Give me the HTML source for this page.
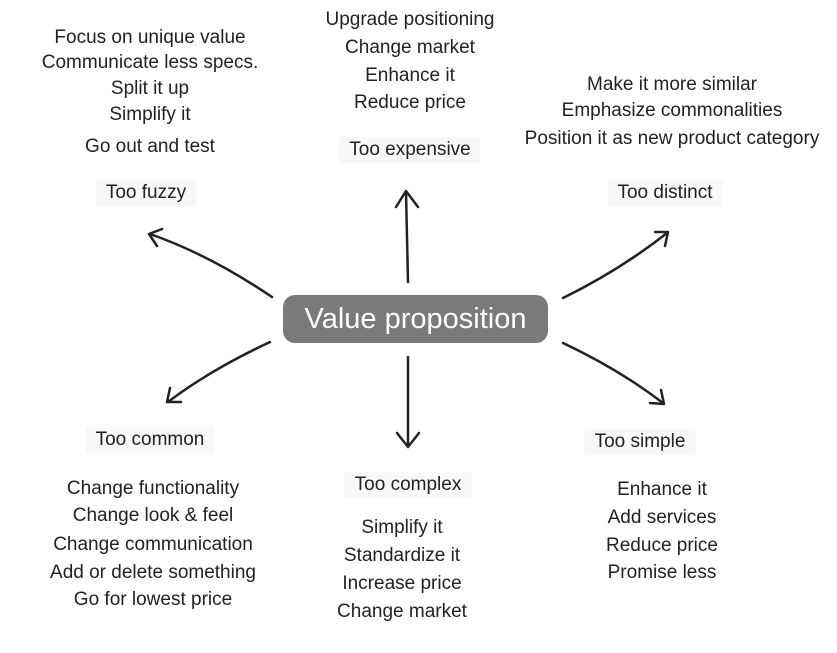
<!DOCTYPE html>
<html><head><style>
body{margin:0;width:837px;height:653px;background:#fff;position:relative;overflow:hidden;font-family:"Liberation Sans",sans-serif;color:#222}
.t{position:absolute;transform:translate(-50%,-50%);white-space:nowrap;font-size:19px}
.h{background:#f8f8f8;padding:2px 10px}
#vp{position:absolute;left:283px;top:295px;width:265px;height:48px;background:#7a7a7a;border-radius:12px;color:#fff;font-size:29px;text-align:center;line-height:48px}
</style></head><body>
<svg width="837" height="653" style="position:absolute;left:0;top:0" fill="none" stroke="#222" stroke-width="2.5" stroke-linecap="round" stroke-linejoin="round">
<path d="M408 282 L406 192"/><path d="M396 207 L406 191 L418 207"/>
<path d="M408 357 L408 446"/><path d="M397 433 L408 447 L419 433"/>
<path d="M272 297 Q210 255 150 234"/><path d="M162 229 L149 234 L157 246"/>
<path d="M563 298 Q620 270 667 233"/><path d="M655 232 L668 232 L665 246"/>
<path d="M270 342 Q210 370 168 402"/><path d="M170 388 L167 402 L181 402"/>
<path d="M563 343 Q620 370 663 403"/><path d="M650 403 L664 404 L661 390"/>
</svg>
<div id="vp">Value proposition</div>

<div class="t" style="left:150px;top:38px">Focus on unique value</div>
<div class="t" style="left:150px;top:63px">Communicate less specs.</div>
<div class="t" style="left:150px;top:89px">Split it up</div>
<div class="t" style="left:150px;top:115px">Simplify it</div>
<div class="t" style="left:150px;top:147px">Go out and test</div>
<div class="t h" style="left:146px;top:193px">Too fuzzy</div>

<div class="t" style="left:410px;top:20px">Upgrade positioning</div>
<div class="t" style="left:410px;top:48px">Change market</div>
<div class="t" style="left:410px;top:76px">Enhance it</div>
<div class="t" style="left:410px;top:103px">Reduce price</div>
<div class="t h" style="left:410px;top:150px">Too expensive</div>

<div class="t" style="left:672px;top:85px">Make it more similar</div>
<div class="t" style="left:672px;top:111px">Emphasize commonalities</div>
<div class="t" style="left:672px;top:139px">Position it as new product category</div>
<div class="t h" style="left:665px;top:193px">Too distinct</div>

<div class="t h" style="left:150px;top:440px">Too common</div>
<div class="t" style="left:153px;top:489px">Change functionality</div>
<div class="t" style="left:153px;top:516px">Change look &amp; feel</div>
<div class="t" style="left:153px;top:545px">Change communication</div>
<div class="t" style="left:153px;top:573px">Add or delete something</div>
<div class="t" style="left:153px;top:600px">Go for lowest price</div>

<div class="t h" style="left:408px;top:485px">Too complex</div>
<div class="t" style="left:402px;top:528px">Simplify it</div>
<div class="t" style="left:402px;top:556px">Standardize it</div>
<div class="t" style="left:402px;top:584px">Increase price</div>
<div class="t" style="left:402px;top:612px">Change market</div>

<div class="t h" style="left:640px;top:442px">Too simple</div>
<div class="t" style="left:662px;top:490px">Enhance it</div>
<div class="t" style="left:662px;top:518px">Add services</div>
<div class="t" style="left:662px;top:546px">Reduce price</div>
<div class="t" style="left:662px;top:573px">Promise less</div>
</body></html>
